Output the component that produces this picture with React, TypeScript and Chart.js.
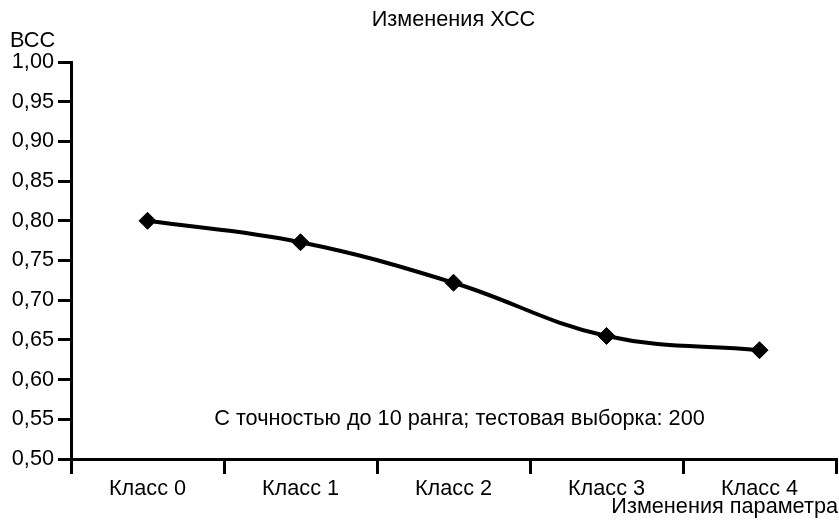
import React, { useEffect, useRef } from "react";
import { Chart, registerables } from "chart.js";

Chart.register(...registerables);

const categories = ["Класс 0", "Класс 1", "Класс 2", "Класс 3", "Класс 4"];
const values = [0.8, 0.773, 0.722, 0.655, 0.637];
const chartTitle = "Изменения ХСС";
const yTitle = "ВСС";
const xTitle = "Изменения параметра";
const note = "С точностью до 10 ранга; тестовая выборка: 200";

const FONT = "'Liberation Sans', Arial, sans-serif";
const FS = 21.7;

const textPlugin = {
  id: "texts",
  afterDraw(chart: any) {
    const { ctx, chartArea } = chart;
    ctx.save();
    ctx.fillStyle = "#000";
    ctx.font = `${FS}px ${FONT}`;
    ctx.textBaseline = "middle";
    ctx.textAlign = "center";
    const cx = (chartArea.left + chartArea.right) / 2;
    ctx.fillText(chartTitle, cx, 20);
    ctx.textAlign = "left";
    ctx.fillText(yTitle, 10, 41);
    ctx.textAlign = "center";
    ctx.fillText(note, cx + 6, 419);
    ctx.textAlign = "right";
    ctx.fillText(xTitle, 838, 507);
    ctx.restore();
  },
};

export default function App() {
  const ref = useRef<HTMLCanvasElement>(null);
  useEffect(() => {
    if (!ref.current) return;
    const chart = new Chart(ref.current, {
      type: "line",
      data: {
        labels: categories,
        datasets: [
          {
            data: values,
            borderColor: "#000",
            backgroundColor: "#000",
            borderWidth: 4,
            tension: 0.4,
            pointStyle: "rectRot",
            pointRadius: 8.5,
            pointHoverRadius: 8.5,
            pointBorderWidth: 1,
            pointBackgroundColor: "#000",
            pointBorderColor: "#000",
          },
        ],
      },
      options: {
        responsive: false,
        animation: false,
        layout: { autoPadding: false, padding: { left: 0, right: 3, top: 62, bottom: 0 } },
        plugins: {
          legend: { display: false },
          title: { display: false },
          tooltip: { enabled: false },
        },
        scales: {
          x: {
            type: "category",
            offset: true,
            grid: {
              display: true,
              drawOnChartArea: false,
              drawTicks: true,
              tickLength: 15,
              color: "#000",
              lineWidth: 3,
              offset: true,
            },
            border: { display: true, color: "#000", width: 3 },
            ticks: {
              color: "#000",
              font: { family: FONT, size: FS },
              padding: 2,
              maxRotation: 0,
            },
            afterFit(scale: any) {
              scale.height = 64;
              scale.paddingLeft = 0;
              scale.paddingRight = 0;
            },
          },
          y: {
            min: 0.5,
            max: 1.0,
            grid: {
              display: true,
              drawOnChartArea: false,
              drawTicks: true,
              tickLength: 13,
              color: "#000",
              lineWidth: 3,
            },
            border: { display: true, color: "#000", width: 3 },
            ticks: {
              stepSize: 0.05,
              color: "#000",
              font: { family: FONT, size: FS },
              padding: 4,
              callback: (v: any) => Number(v).toFixed(2).replace(".", ","),
            },
            afterFit(scale: any) {
              scale.width = 71;
            },
          },
        },
      },
      plugins: [textPlugin],
    });
    return () => chart.destroy();
  }, []);
  return (
    <div style={{ position: "absolute", left: 0, top: 0, width: 839, height: 523, background: "#fff" }}>
      <canvas ref={ref} width={839} height={523} />
    </div>
  );
}
